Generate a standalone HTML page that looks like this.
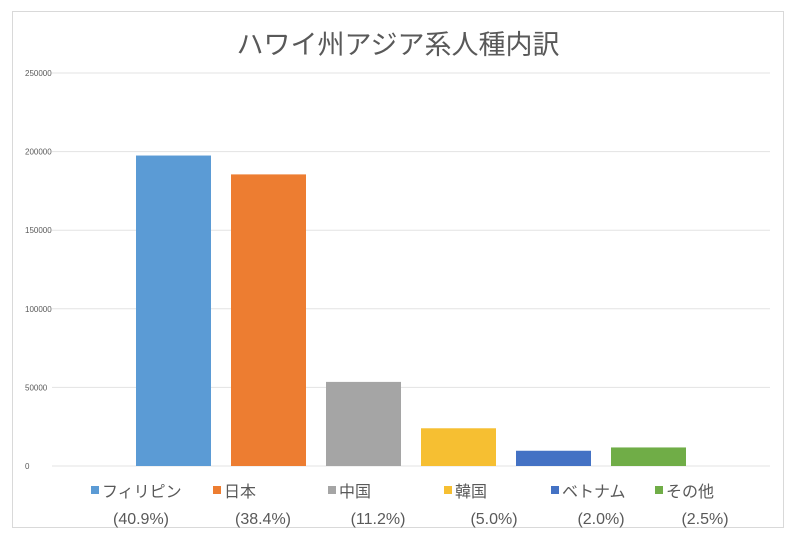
<!DOCTYPE html>
<html><head><meta charset="utf-8"><style>
body{margin:0;background:#fff;}
svg text{font-family:"Liberation Sans","Noto Sans CJK JP",sans-serif;}
</style></head><body>
<svg width="800" height="533" viewBox="0 0 800 533">
<rect x="12.5" y="11.5" width="771" height="516" fill="#fff" stroke="#d9d9d9"/>
<text x="398" y="54" text-anchor="middle" font-size="27" fill="#595959">ハワイ州アジア系人種内訳</text>
<g id="grid"></g><g id="bars"></g><g id="legend"></g>
</svg>
<script>
const categories=["フィリピン","日本","中国","韓国","ベトナム","その他"];
const values=[197500,185500,53500,24000,9700,11800];
const percents=["(40.9%)","(38.4%)","(11.2%)","(5.0%)","(2.0%)","(2.5%)"];
const colors=["#5b9bd5","#ed7d31","#a5a5a5","#f6bf32","#4472c4","#70ad47"];
const ticks=[0,50000,100000,150000,200000,250000];
const NS="http://www.w3.org/2000/svg";
const y0=466,y1=73,vmax=250000;
const y=v=>y0-(v/vmax)*(y0-y1);
const bandX=i=>126+i*95;
const legX=[91,213,328,444,551,655];
function mk(t,a,p){const e=document.createElementNS(NS,t);for(const k in a)e.setAttribute(k,a[k]);p.appendChild(e);return e;}
const g=document.getElementById('grid');
ticks.forEach(t=>{
 const l=mk('line',{x1:52,x2:770,y1:y(t),y2:y(t),stroke:'#e3e3e3','stroke-width':1},g);
 
 
 const tx=mk('text',{x:25,y:y(t)+3,'font-size':8,fill:'#595959'},g);
 tx.textContent=t;
 
 
});
const b=document.getElementById('bars');
values.forEach((v,i)=>{
 const r=mk('rect',{x:bandX(i)+10,y:y(v),width:75,height:y0-y(v),fill:colors[i]},b);
 
 
});
const lg=document.getElementById('legend');
categories.forEach((c,i)=>{
 const s=mk('rect',{x:legX[i],y:486,width:8,height:8,fill:colors[i]},lg);
 
 
 const t=mk('text',{x:legX[i]+11,y:497,'font-size':16,fill:'#595959'},lg);
 t.textContent=c;
 
 
 const p=mk('text',{x:legX[i]+50,y:524,'font-size':16,fill:'#595959','text-anchor':'middle'},lg);
 p.textContent=percents[i];
 
 
});
</script>
</body></html>
